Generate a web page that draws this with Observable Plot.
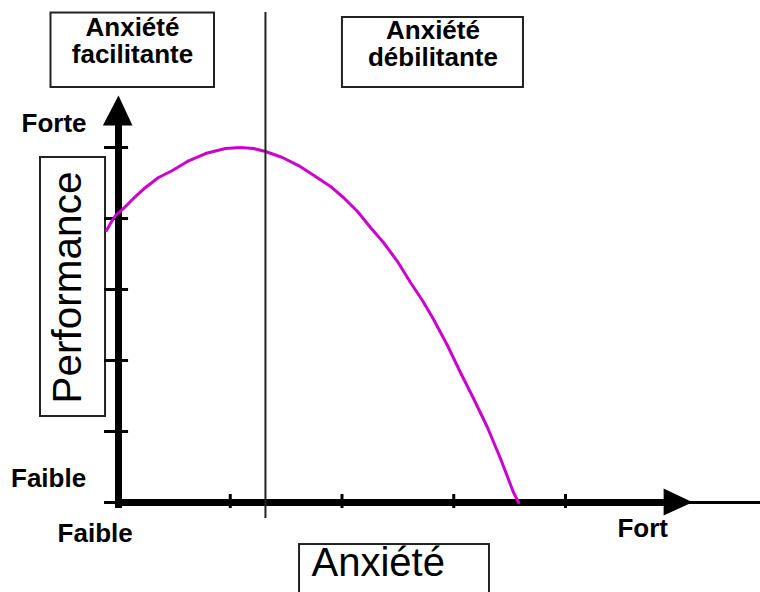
<!DOCTYPE html>
<html>
<head>
<meta charset="utf-8">
<script src="https://cdn.jsdelivr.net/npm/d3@7"></script>
<script src="https://cdn.jsdelivr.net/npm/@observablehq/plot@0.6"></script>
<style>
  html, body { margin: 0; padding: 0; background: #fff; }
  #chart svg { display: block; }
</style>
</head>
<body>
<div id="chart"></div>
<script>
// ---- data ----
const anxiety = [-0.107, -0.072, -0.027, 0.045, 0.134, 0.242, 0.358, 0.483, 0.617, 0.779, 0.957, 1.091, 1.208, 1.315, 1.467, 1.611, 1.763, 1.897, 2.013, 2.139, 2.255, 2.371, 2.497, 2.613, 2.720, 2.810, 2.944, 3.060, 3.177, 3.302, 3.418, 3.535, 3.580];
const performance = [3.831, 3.930, 4.042, 4.141, 4.282, 4.437, 4.577, 4.676, 4.803, 4.915, 4.986, 5.000, 4.986, 4.944, 4.859, 4.746, 4.592, 4.451, 4.296, 4.099, 3.873, 3.662, 3.394, 3.099, 2.845, 2.606, 2.211, 1.831, 1.465, 1.056, 0.620, 0.141, 0.000];
const xTicks = [1, 2, 3, 4];
const yTicks = [0, 1, 2, 3, 4, 5];
const divider = 1.315;   // boundary between facilitating and debilitating anxiety

// ---- annotations (data units) ----
const zoneLabels = [
  {text: "Anxiété\nfacilitante", x: 0.125, y: 6.50},
  {text: "Anxiété\ndébilitante", x: 2.814, y: 6.46}
];
const zoneBoxes = [
  {x1: -0.604, x2: 0.859, y1: 5.845, y2: 6.894},
  {x1: 2.004, x2: 3.624, y1: 5.845, y2: 6.831}
];
const endLabels = [
  {text: "Forte", x: -0.868, y: 5.33},
  {text: "Faible", x: -0.962, y: 0.338},
  {text: "Faible", x: -0.545, y: -0.437},
  {text: "Fort", x: 4.465, y: -0.366}
];
const axisTitleBoxes = [
  {x1: -0.698, x2: -0.116, y1: 1.211, y2: 4.859},
  {x1: 1.620, x2: 3.320, y1: -1.40, y2: -0.592}
];
const yTitle = {text: "Performance", x: -0.452, y: 3.028};
const xTitle = {text: "Anxiété", x: 1.727, y: -0.850};

const yArrow = [{x: -0.14, y: 5.31}, {x: 0, y: 5.732}, {x: 0.125, y: 5.31}];
const xArrow = [{x: 4.878, y: 0.197}, {x: 5.137, y: 0.004}, {x: 4.878, y: -0.183}];

const curve = anxiety.map((x, i) => ({x, y: performance[i]}));

const font = "'Liberation Sans', Arial, Helvetica, sans-serif";

const chart = Plot.plot({
  width: 760,
  height: 592,
  margin: 0,
  x: {domain: [0, 4], range: [118, 565], axis: null},
  y: {domain: [0, 5], range: [502, 147], axis: null},
  style: {fontFamily: font, background: "#fff", color: "#000"},
  marks: [
    // boxes
    Plot.rect(zoneBoxes, {x1: "x1", x2: "x2", y1: "y1", y2: "y2", fill: "none", stroke: "#222", strokeWidth: 2}),
    Plot.rect(axisTitleBoxes, {x1: "x1", x2: "x2", y1: "y1", y2: "y2", fill: "none", stroke: "#222", strokeWidth: 2}),
    // thin continuation of the x axis
    Plot.ruleY([0], {x1: 4.9, x2: 5.75, strokeWidth: 3, stroke: "#000"}),
    // thick axes
    Plot.ruleX([0], {y1: -0.085, y2: 5.33, strokeWidth: 7, stroke: "#000"}),
    Plot.ruleY([0], {x1: -0.027, x2: 4.9, strokeWidth: 7, stroke: "#000"}),
    // ticks
    Plot.ruleY(yTicks, {x1: -0.125, x2: 0.09, strokeWidth: 3, stroke: "#000"}),
    Plot.ruleX(xTicks, {y1: -0.085, y2: 0.113, strokeWidth: 3, stroke: "#000"}),
    // arrow heads
    Plot.line(yArrow, {x: "x", y: "y", fill: "#000", stroke: "none"}),
    Plot.line(xArrow, {x: "x", y: "y", fill: "#000", stroke: "none"}),
    // curve
    Plot.line(curve, {x: "x", y: "y", stroke: "#cc00cc", strokeWidth: 3, curve: "linear"}),
    // divider
    Plot.ruleX([divider], {y1: -0.225, y2: 6.9, stroke: "#222", strokeWidth: 2}),
    // labels
    Plot.text(zoneLabels, {x: "x", y: "y", text: "text", fontSize: 26, fontWeight: "bold", textAnchor: "middle", lineAnchor: "middle", lineHeight: 1.05, fill: "#000"}),
    Plot.text(endLabels, {x: "x", y: "y", text: "text", fontSize: 26, fontWeight: "bold", textAnchor: "start", lineAnchor: "middle", fill: "#000"}),
    Plot.text([yTitle], {x: "x", y: "y", text: "text", fontSize: 40.5, rotate: -90, textAnchor: "middle", lineAnchor: "middle", fill: "#000"}),
    Plot.text([xTitle], {x: "x", y: "y", text: "text", fontSize: 40, textAnchor: "start", lineAnchor: "middle", fill: "#000"})
  ]
});
document.getElementById("chart").appendChild(chart);
</script>
</body>
</html>
